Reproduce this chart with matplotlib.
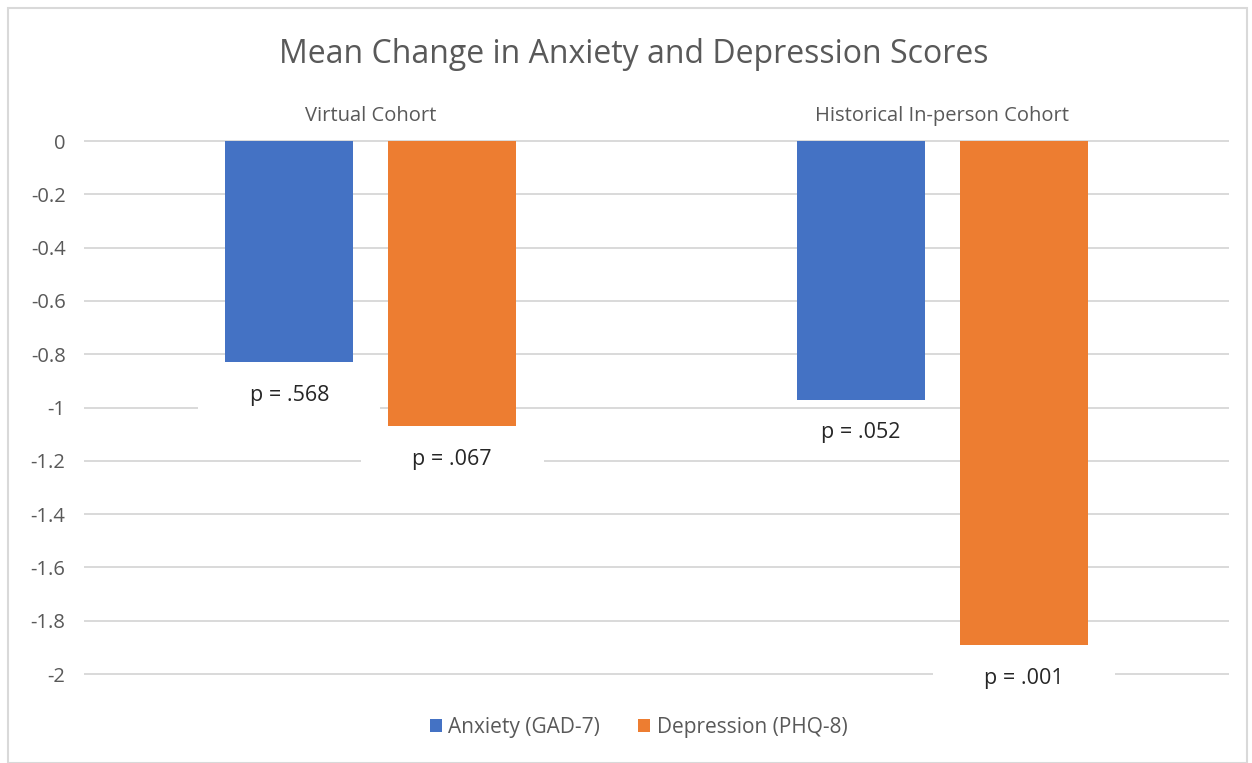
import numpy as np
import matplotlib.pyplot as plt
from matplotlib.patches import Rectangle

plt.rcParams['font.family'] = ['Open Sans', 'DejaVu Sans']

# datos
cohorts = ['Virtual Cohort', 'Historical In-person Cohort']
series = ['Anxiety (GAD-7)', 'Depression (PHQ-8)']
anxiety = [-0.83, -0.97]
depression = [-1.07, -1.89]
p_anx = ['p = .568', 'p = .052']
p_dep = ['p = .067', 'p = .001']
yticks = [0, -0.2, -0.4, -0.6, -0.8, -1, -1.2, -1.4, -1.6, -1.8, -2]

blue = '#4472c4'
orange = '#ed7d31'
gris = '#595959'

fig = plt.figure(figsize=(12.52, 7.63), dpi=100)
ax = fig.add_axes([0.0679, 0.1166, 0.913, 0.6986])

x = np.arange(len(cohorts))
w = 0.224
off = 0.1426
b1 = ax.bar(x - off, anxiety, w, color=blue, zorder=3, label=series[0])
b2 = ax.bar(x + off, depression, w, color=orange, zorder=3, label=series[1])

# etiquetas p con fondo blanco que tapa la rejilla
pad = ' ' * 8
for bars, labs in [(b1, p_anx), (b2, p_dep)]:
    for r, t in zip(bars, labs):
        ax.annotate(pad + t + pad, (r.get_x() + r.get_width() / 2, r.get_height()),
                    xytext=(0, -24), textcoords='offset points', ha='center', va='center',
                    fontsize=15.5, color='#262626', zorder=2, annotation_clip=False,
                    bbox=dict(boxstyle='square,pad=0.3', fc='white', ec='none'))

# nombres de cohortes arriba
for xi, c in zip(x, cohorts):
    ax.text(xi, 1.046, c, transform=ax.get_xaxis_transform(), ha='center', va='center',
            fontsize=14.5, color=gris)

ax.set_xlim(-0.5, 1.5)
ax.set_ylim(-2, 0)
ax.set_yticks(yticks)
ax.set_yticklabels([str(v) for v in yticks])
ax.tick_params(axis='y', length=0, labelsize=14.5, labelcolor=gris, pad=14)
ax.set_xticks([])
ax.grid(axis='y', color='#d9d9d9', linewidth=1.4, zorder=0)
for gl in ax.yaxis.get_gridlines():
    gl.set_clip_on(False)
ax.set_axisbelow(True)
for s in ax.spines.values():
    s.set_visible(False)

fig.text(0.506, 0.928, 'Mean Change in Anxiety and Depression Scores', ha='center', va='center',
         fontsize=23, color=gris)

leg = fig.legend(handles=[b1, b2], loc='center', bbox_to_anchor=(0.51, 0.047), ncol=2,
                 frameon=False, fontsize=15, handlelength=0.6, handleheight=0.6,
                 handletextpad=0.3, columnspacing=1.8)
for t in leg.get_texts():
    t.set_color(gris)

# borde del grafico
fig.patches.append(Rectangle((0.0064, 0.0), 0.99, 0.989, transform=fig.transFigure,
                             fill=False, ec='#d9d9d9', lw=1.5))

fig.savefig('out.png', dpi=100)
